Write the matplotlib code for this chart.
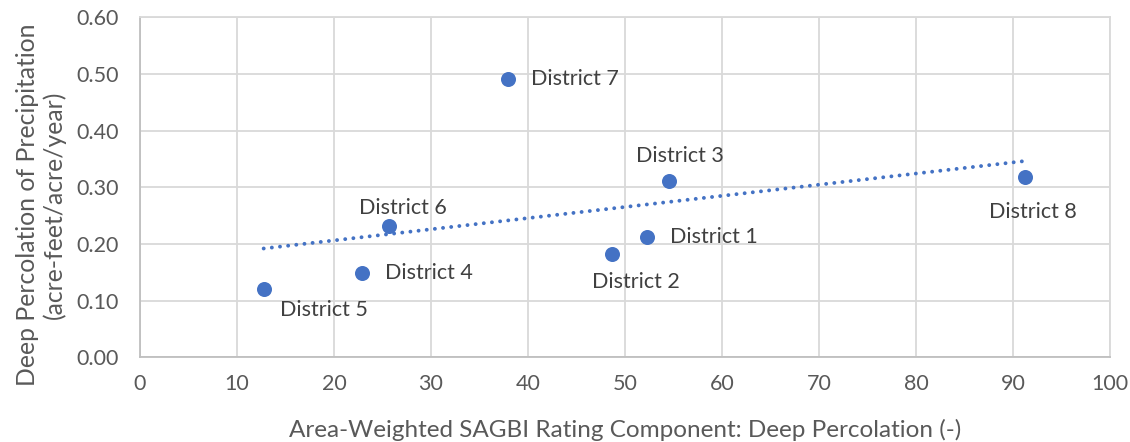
import matplotlib
matplotlib.use("Agg")
import matplotlib.pyplot as plt
import numpy as np

districts = ["District 1", "District 2", "District 3", "District 4",
             "District 5", "District 6", "District 7", "District 8"]
sagbi = [52.3, 48.7, 54.5, 22.9, 12.75, 25.7, 37.97, 91.2]
deep_perc = [0.212, 0.182, 0.312, 0.148, 0.121, 0.232, 0.491, 0.318]

x_ticks = [0, 10, 20, 30, 40, 50, 60, 70, 80, 90, 100]
y_ticks = [0.0, 0.1, 0.2, 0.3, 0.4, 0.5, 0.6]

# label offsets in pixels (dx, dy) and alignment
label_pos = {
    "District 1": (23, 0, "left", "center"),
    "District 2": (23, -28, "center", "center"),
    "District 3": (11, 24, "center", "center"),
    "District 4": (23, 0, "left", "center"),
    "District 5": (60, -21, "center", "center"),
    "District 6": (14, 18, "center", "center"),
    "District 7": (23, 0, "left", "center"),
    "District 8": (8, -35, "center", "center"),
}

plt.rcParams['font.family'] = ['Lato', 'DejaVu Sans']
text_color = "#595959"
grid_color = "#D9D9D9"
blue = "#4472C4"

fig = plt.figure(figsize=(11.3, 4.42), dpi=100)
ax = fig.add_axes([140/1130, 1-357.3/442, 970/1130, 340/442])

ax.set_xlim(0, 100)
ax.set_ylim(0, 0.6)
ax.set_xticks(x_ticks)
ax.set_yticks(y_ticks)
ax.set_yticklabels([f"{v:.2f}" for v in y_ticks])
ax.grid(True, color=grid_color, linewidth=1.3)
ax.set_axisbelow(True)
for s in ax.spines.values():
    s.set_color(grid_color)
    s.set_linewidth(1.3)
ax.spines['left'].set_color("#BFBFBF")
ax.spines['bottom'].set_color("#BFBFBF")
ax.tick_params(axis='both', length=0, labelsize=15.5, colors=text_color)
ax.tick_params(axis='y', pad=15)
ax.tick_params(axis='x', pad=12)

# trendline
coef = np.polyfit(sagbi, deep_perc, 1)
xs = np.array([min(sagbi), max(sagbi)])
ax.plot(xs, np.polyval(coef, xs), color=blue, linewidth=2.8,
        linestyle=(0, (0.01, 2.1)), dash_capstyle='round', zorder=2)

ax.scatter(sagbi, deep_perc, s=117, color=blue, zorder=3, linewidths=0)

for name, xv, yv in zip(districts, sagbi, deep_perc):
    dx, dy, ha, va = label_pos[name]
    ax.annotate(name, (xv, yv), xytext=(dx, dy), textcoords='offset pixels',
                ha=ha, va=va, fontsize=15.5, color="#404040")

ax.set_xlabel("Area-Weighted SAGBI Rating Component: Deep Percolation (-)",
              fontsize=17.5, color=text_color, labelpad=18)
ax.set_ylabel("Deep Percolation of Precipitation\n(acre-feet/acre/year)",
              fontsize=17.8, color=text_color, linespacing=1.2)
ax.yaxis.label.set_verticalalignment('center')
ax.yaxis.set_label_coords((41 - 140) / 970, (357.3 - 205) / 340)

fig.savefig("out.png", dpi=100)
